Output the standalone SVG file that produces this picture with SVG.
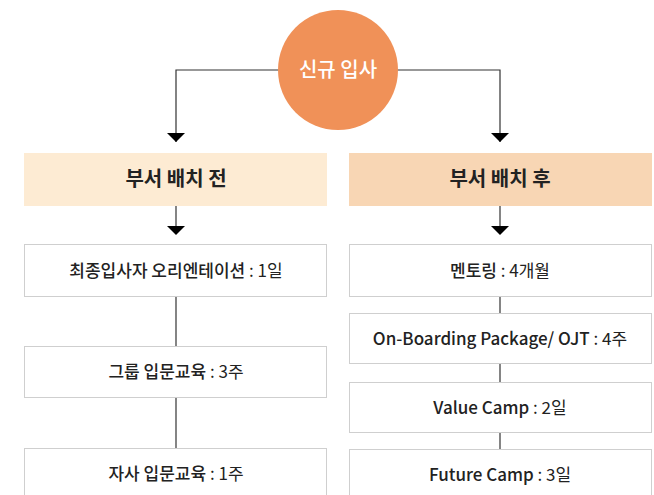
<svg xmlns="http://www.w3.org/2000/svg" width="654" height="495" viewBox="0 0 654 495">
<style>
text{font-family:"Noto Sans CJK KR","Noto Sans",sans-serif;fill:#222;text-anchor:middle}
.h{font-size:20px;font-weight:700}
.b{font-size:17px;font-weight:500}
.r{font-weight:400}
.box{fill:#fff;stroke:#cfcfcf;stroke-width:1}
.ln{stroke:#333;stroke-width:1.2;fill:none}
</style>
<g id="connectors">
<polyline class="ln" points="280,70 176,70 176,142"/>
<polyline class="ln" points="396,70 500,70 500,142"/>
<path d="M167,133 L185,133 L176,142 Z" fill="#000"/>
<path d="M491,133 L509,133 L500,142 Z" fill="#000"/>
<line class="ln" x1="176" y1="206" x2="176" y2="228"/>
<path d="M167,226 L185,226 L176,235 Z" fill="#000"/>
<line class="ln" x1="500" y1="206" x2="500" y2="228"/>
<path d="M491,226 L509,226 L500,235 Z" fill="#000"/>
<line class="ln" x1="176" y1="297" x2="176" y2="346"/>
<line class="ln" x1="176" y1="398" x2="176" y2="448"/>
<line class="ln" x1="500" y1="297" x2="500" y2="313"/>
<line class="ln" x1="500" y1="364" x2="500" y2="382"/>
<line class="ln" x1="500" y1="433" x2="500" y2="449"/>
</g>
<g id="start">
<circle cx="338" cy="70" r="60" fill="#f09158"/>
<text x="338" y="77" style="font-size:20px;font-weight:500;fill:#fff">신규 입사</text>
</g>
<g id="before">
<rect x="24" y="153" width="303" height="53" fill="#fdebd3"/>
<text class="h" x="176" y="186">부서 배치 전</text>
</g>
<g id="after">
<rect x="349" y="153" width="303" height="53" fill="#f8d6b4"/>
<text class="h" x="500" y="186">부서 배치 후</text>
</g>
<g id="b1">
<rect class="box" x="24.5" y="244.5" width="302" height="52"/>
<text class="b" x="176" y="277">최종입사자 오리엔테이션<tspan class="r"> : 1일</tspan></text>
</g>
<g id="b2">
<rect class="box" x="24.5" y="346.5" width="302" height="51"/>
<text class="b" x="176" y="378">그룹 입문교육<tspan class="r"> : 3주</tspan></text>
</g>
<g id="b3">
<rect class="box" x="24.5" y="448.5" width="302" height="60"/>
<text class="b" x="176" y="480">자사 입문교육<tspan class="r"> : 1주</tspan></text>
</g>
<g id="a1">
<rect class="box" x="349.5" y="244.5" width="302" height="52"/>
<text class="b" x="500" y="277">멘토링<tspan class="r"> : 4개월</tspan></text>
</g>
<g id="a2">
<rect class="box" x="349.5" y="313.5" width="302" height="50"/>
<text class="b" x="500" y="345">On-Boarding Package/ OJT<tspan class="r"> : 4주</tspan></text>
</g>
<g id="a3">
<rect class="box" x="349.5" y="382.5" width="302" height="50"/>
<text class="b" x="500" y="414">Value Camp<tspan class="r"> : 2일</tspan></text>
</g>
<g id="a4">
<rect class="box" x="349.5" y="449.5" width="302" height="60"/>
<text class="b" x="500" y="481">Future Camp<tspan class="r"> : 3일</tspan></text>
</g>
</svg>
